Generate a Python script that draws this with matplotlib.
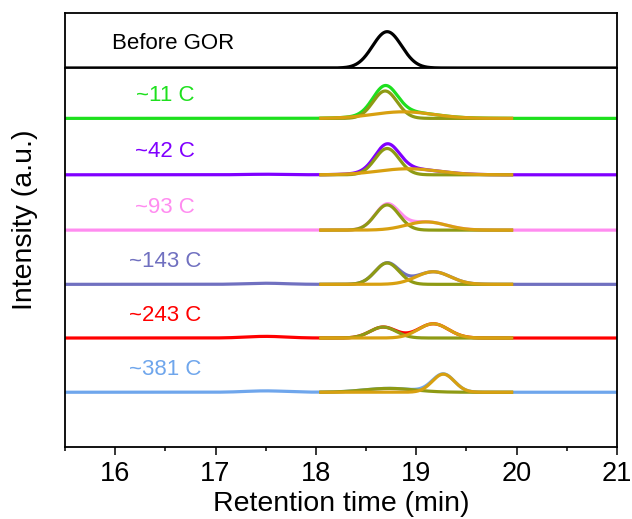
import numpy as np
import matplotlib
matplotlib.use("Agg")
import matplotlib.pyplot as plt
from matplotlib.ticker import MultipleLocator

plt.rcParams['font.family'] = ['Liberation Sans', 'DejaVu Sans']

# GPC traces, fitted with two gaussian peaks each
labels = ['~11 C', '~42 C', '~93 C', '~143 C', '~243 C', '~381 C']
colors = ['#1ee01e', '#8000ff', '#ff8cf0', '#7070c0', '#ff0000', '#6fa6ec']
offsets = [6.0, 4.97, 3.96, 2.97, 1.99, 1.0]

# peak 1 (olive fit): center, height, width
p1_center = [18.69, 18.71, 18.71, 18.71, 18.67, 18.73]
p1_height = [0.50, 0.48, 0.46, 0.39, 0.20, 0.07]
p1_width = [0.12, 0.12, 0.12, 0.12, 0.13, 0.25]

# peak 2 (orange fit)
p2_center = [18.87, 18.92, 19.10, 19.17, 19.17, 19.27]
p2_height = [0.12, 0.11, 0.15, 0.23, 0.26, 0.33]
p2_width = [0.30, 0.30, 0.20, 0.17, 0.15, 0.11]

# small bump near 17.5 min in the raw traces
bump_height = [0.0, 0.01, 0.0, 0.02, 0.03, 0.025]

# before GOR
ref_center, ref_height, ref_width = 18.71, 0.66, 0.145

fit_range = (18.05, 19.95)
olive = '#8e9a14'
orange = '#d8a010'


def gauss(t, c, h, w):
    return h * np.exp(-(t - c) ** 2 / (2 * w ** 2))


t = np.linspace(15.5, 21, 2000)
tf = np.linspace(fit_range[0], fit_range[1], 800)

fig = plt.figure(figsize=(6.32, 5.19), dpi=100)
ax_top = fig.add_axes([0.1028, 0.869, 0.8734, 0.106])
ax = fig.add_axes([0.1028, 0.1387, 0.8734, 0.7303])

# top panel
ax_top.plot(t, gauss(t, ref_center, ref_height, ref_width), color='black', lw=2.3)
ax_top.set_xlim(15.5, 21)
ax_top.set_ylim(0, 1.0)
ax_top.set_xticks([])
ax_top.set_yticks([])
ax_top.text(16.58, 0.45, 'Before GOR', fontsize=16, ha='center', va='center')

# bottom panel
for i in range(len(labels)):
    y0 = offsets[i]
    raw = (gauss(t, p1_center[i], p1_height[i], p1_width[i])
           + gauss(t, p2_center[i], p2_height[i], p2_width[i])
           + gauss(t, 17.5, bump_height[i], 0.2))
    ax.plot(t, raw + y0, color=colors[i], lw=2.3)
    ax.plot(tf, gauss(tf, p1_center[i], p1_height[i], p1_width[i]) + y0,
            color=olive, lw=2.3)
    ax.plot(tf, gauss(tf, p2_center[i], p2_height[i], p2_width[i]) + y0,
            color=orange, lw=2.3)
    ax.text(16.5, y0 + 0.42, labels[i], color=colors[i], fontsize=16,
            ha='center', va='center')

ax.set_xlim(15.5, 21)
ax.set_ylim(0, 6.92)
ax.set_yticks([])
ax.xaxis.set_major_locator(MultipleLocator(1))
ax.xaxis.set_minor_locator(MultipleLocator(0.5))
ax.tick_params(axis='x', which='major', direction='out', length=5.8, width=1.1,
               labelsize=19.5, pad=4)
ax.tick_params(axis='x', which='minor', direction='out', length=3, width=1.1)
ax.set_xlabel('Retention time (min)', fontsize=20.5, labelpad=3)

for a in (ax, ax_top):
    for s in a.spines.values():
        s.set_linewidth(1.3)

fig.text(0.04, 1 - 220 / 519, 'Intensity (a.u.)', rotation=90, fontsize=20.5,
         ha='center', va='center')

fig.savefig('out.png', dpi=100)
